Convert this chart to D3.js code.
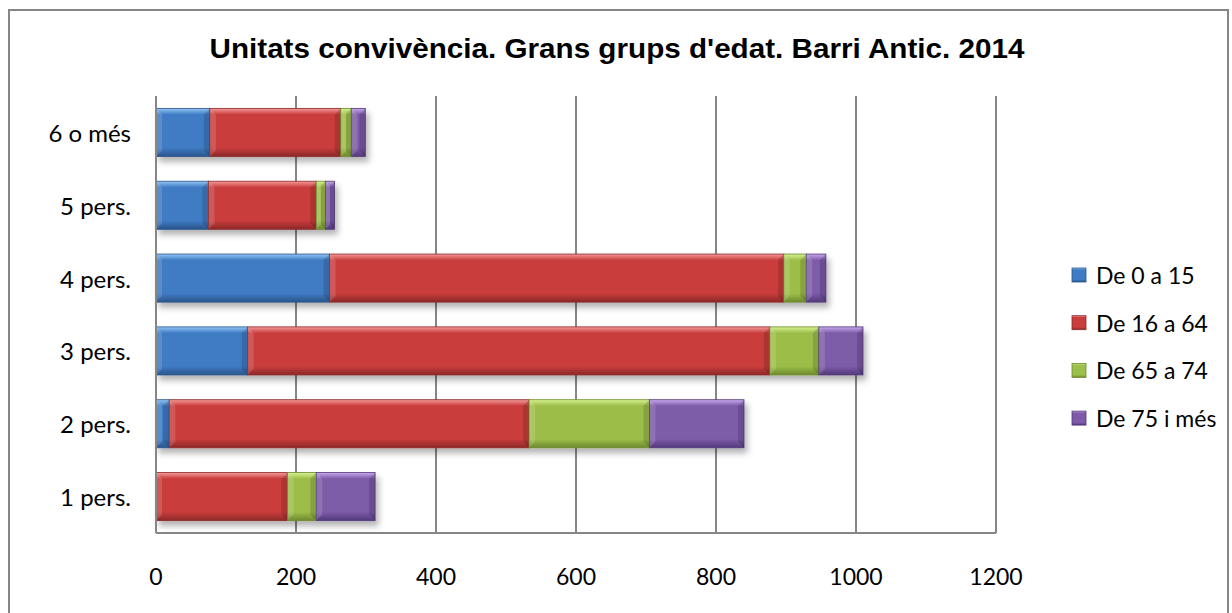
<!DOCTYPE html>
<html>
<head>
<meta charset="utf-8">
<script src="https://cdn.jsdelivr.net/npm/d3@7"></script>
<style>
  html, body { margin: 0; padding: 0; background: #fff; }
  svg { display: block; }
</style>
</head>
<body>
<svg id="chart" width="1232" height="613"></svg>
<script>
// ---- data ----
const categories = ["1 pers.", "2 pers.", "3 pers.", "4 pers.", "5 pers.", "6 o més"];
const seriesNames = ["De 0 a 15", "De 16 a 64", "De 65 a 74", "De 75 i més"];
const age0to15   = [0, 19, 131, 248, 75, 77];
const age16to64  = [188, 514, 746, 649, 154, 187];
const age65to74  = [41, 172, 70, 32, 13, 15];
const age75plus  = [84, 135, 63, 28, 13, 20];
const xTicks = [0, 200, 400, 600, 800, 1000, 1200];
const titleText = "Unitats convivència. Grans grups d'edat. Barri Antic. 2014";

const seriesValues = [age0to15, age16to64, age65to74, age75plus];
const seriesColors = [
  {base: "#3f7bc4", light: "#92c6f5", dark: "#2a558c"},
  {base: "#c93d3c", light: "#f59a9a", dark: "#8c2828"},
  {base: "#9cbe4a", light: "#d8f290", dark: "#6c8a2c"},
  {base: "#7d5ba8", light: "#c7aaee", dark: "#52397a"}
];

const W = 1232, H = 613;
const margin = {left: 156, right: 236, top: 96, bottom: 80};
const svg = d3.select("#chart");

// outer frame
svg.append("rect").attr("x", 9).attr("y", 10).attr("width", 1219).attr("height", 610)
  .attr("fill", "#fff").attr("stroke", "#868686").attr("stroke-width", 2);

const defs = svg.append("defs");
seriesColors.forEach((c, i) => {
  const g = defs.append("linearGradient").attr("id", "grad" + i)
    .attr("x1", 0).attr("y1", 0).attr("x2", 0).attr("y2", 1);
  g.append("stop").attr("offset", "0%").attr("stop-color", c.light);
  g.append("stop").attr("offset", "13%").attr("stop-color", c.base);
  g.append("stop").attr("offset", "82%").attr("stop-color", c.base);
  g.append("stop").attr("offset", "100%").attr("stop-color", c.dark);
});
const f = defs.append("filter").attr("id", "shadow")
  .attr("x", "-10%").attr("y", "-20%").attr("width", "130%").attr("height", "160%");
f.append("feDropShadow").attr("dx", 3).attr("dy", 5).attr("stdDeviation", 3)
  .attr("flood-color", "#000").attr("flood-opacity", 0.3);

const x = d3.scaleLinear().domain([0, 1200]).range([margin.left, W - margin.right]);
const y = d3.scaleBand().domain(categories.slice().reverse())
  .range([margin.top, H - margin.bottom]).paddingInner(0.34).paddingOuter(0.17);

// gridlines
svg.append("g").selectAll("line").data(xTicks).join("line")
  .attr("x1", d => x(d)).attr("x2", d => x(d))
  .attr("y1", margin.top).attr("y2", H - margin.bottom)
  .attr("stroke", "#868686").attr("stroke-width", 2);

// bottom axis line
svg.append("line").attr("x1", x(0)).attr("x2", x(1200))
  .attr("y1", H - margin.bottom).attr("y2", H - margin.bottom)
  .attr("stroke", "#868686").attr("stroke-width", 2);

// stacked data
const table = categories.map((c, i) => {
  const o = {cat: c};
  seriesNames.forEach((s, j) => o[s] = seriesValues[j][i]);
  return o;
});
const stack = d3.stack().keys(seriesNames)(table);

const barsG = svg.append("g");
categories.forEach((c, ci) => {
  const g = barsG.append("g").attr("filter", "url(#shadow)");
  stack.forEach((layer, si) => {
    const d = layer[ci];
    if (d[1] - d[0] <= 0) return;
    const x0 = x(d[0]), x1 = x(d[1]), yy = y(c), h = y.bandwidth();
    g.append("rect").attr("x", x0).attr("y", yy).attr("width", x1 - x0).attr("height", h)
      .attr("fill", `url(#grad${si})`)
      .attr("stroke", seriesColors[si].dark).attr("stroke-width", 0.8);
    const bw = Math.min(6, (x1 - x0) / 2);
    g.append("path")
      .attr("d", `M${x0},${yy}L${x0 + bw},${yy + bw}L${x0 + bw},${yy + h - bw}L${x0},${yy + h}Z`)
      .attr("fill", "#fff").attr("opacity", 0.14);
    g.append("path")
      .attr("d", `M${x1},${yy}L${x1 - bw},${yy + bw}L${x1 - bw},${yy + h - bw}L${x1},${yy + h}Z`)
      .attr("fill", "#000").attr("opacity", 0.14);
  });
});

// y axis line
svg.append("line").attr("x1", x(0)).attr("x2", x(0))
  .attr("y1", margin.top).attr("y2", H - margin.bottom)
  .attr("stroke", "#868686").attr("stroke-width", 2);

const font = "Lato, 'Open Sans', sans-serif";
// category labels
svg.append("g").selectAll("text").data(categories).join("text")
  .attr("x", 131).attr("y", d => y(d) + y.bandwidth() / 2)
  .attr("text-anchor", "end").attr("dominant-baseline", "central")
  .attr("font-family", font).attr("font-size", 24).attr("fill", "#000")
  .text(d => d);

// tick labels
svg.append("g").selectAll("text").data(xTicks).join("text")
  .attr("x", d => x(d)).attr("y", 585)
  .attr("text-anchor", "middle")
  .attr("font-family", font).attr("font-size", 23).attr("fill", "#000")
  .text(d => d);

// title
svg.append("text").attr("x", 617).attr("y", 58).attr("text-anchor", "middle")
  .attr("font-family", "'Liberation Sans', Arial, sans-serif").attr("font-weight", "bold")
  .attr("font-size", 27).attr("textLength", 815).attr("lengthAdjust", "spacingAndGlyphs")
  .attr("fill", "#000").text(titleText);

// legend
const lg = svg.append("g").attr("transform", "translate(1072,275)");
seriesNames.forEach((s, i) => {
  const it = lg.append("g").attr("transform", `translate(0,${i * 47.7})`);
  it.append("rect").attr("x", 0).attr("y", -7).attr("width", 14).attr("height", 14)
    .attr("fill", `url(#grad${i})`).attr("stroke", seriesColors[i].dark).attr("stroke-width", 0.8);
  it.append("text").attr("x", 24).attr("y", 0).attr("dominant-baseline", "central")
    .attr("font-family", font).attr("font-size", 23).attr("fill", "#000").text(s);
});
</script>
</body>
</html>
